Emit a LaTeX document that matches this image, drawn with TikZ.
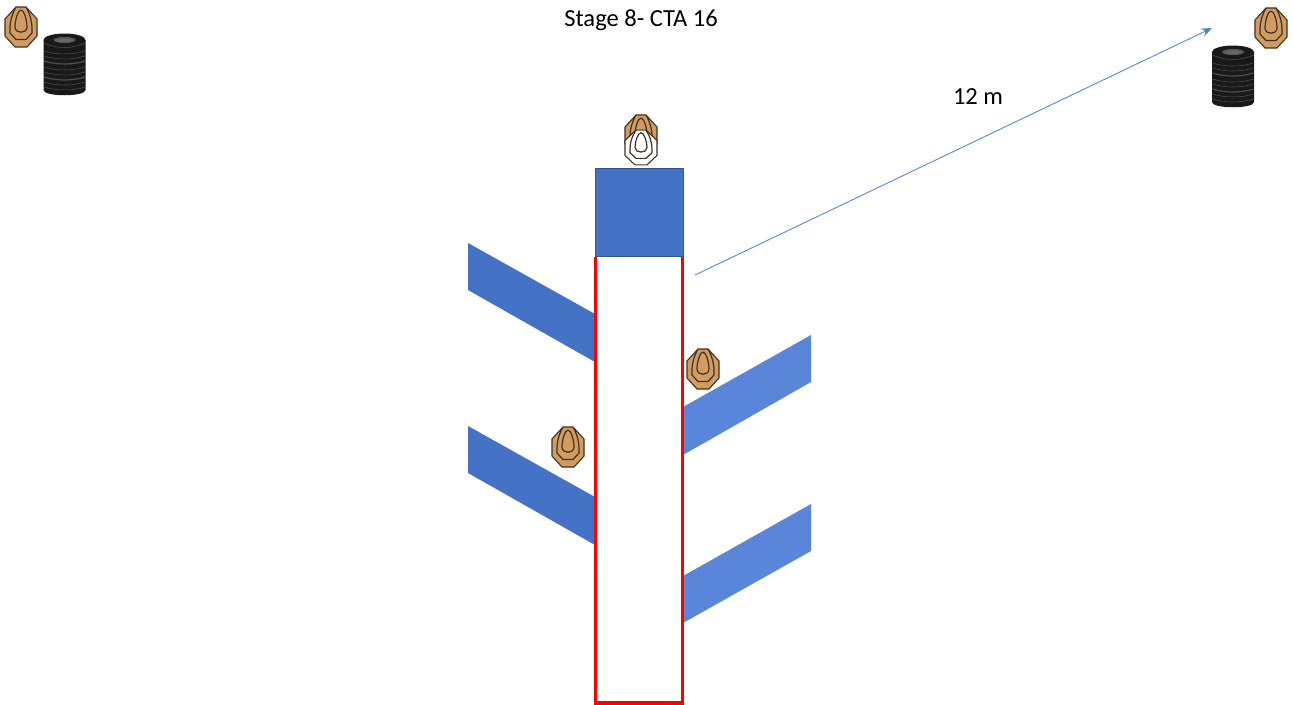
\documentclass[tikz,border=0pt]{standalone}
\usepackage{fontspec}
\setmainfont{Carlito}
\usetikzlibrary{arrows.meta}
\definecolor{bandA}{HTML}{4472C4}
\definecolor{bandB}{HTML}{5A86DA}
\definecolor{lineblue}{HTML}{5F8BD3}
\definecolor{tan}{HTML}{D19C62}
\definecolor{edge}{HTML}{3F3020}
\definecolor{tire}{HTML}{191919}
\definecolor{tireline}{HTML}{4E4E4E}
\tikzset{
  px/.style={x=0.75pt,y=-0.75pt},
  band/.style={fill=#1,draw=none},
  label/.style={font=\fontsize{18.4pt}{20pt}\selectfont,text=black,inner sep=0pt},
  tires/.pic={
    \fill[tire] (-21,-24) -- (21,-24) -- (21,26) .. controls (21,33) and (-21,33) .. (-21,26) -- cycle;
    \foreach \y in {-13,-8,3,8,18,23}
      \draw[tireline,line width=0.4pt] (-20.5,\y) .. controls (-8,\y+4) and (8,\y+4) .. (20.5,\y);
    \foreach \y in {-3,13}
      \draw[tireline,line width=0.9pt] (-20.5,\y) .. controls (-8,\y+4) and (8,\y+4) .. (20.5,\y);
    \fill[tire] (0,-24) ellipse (21 and 6.5);
    \draw[tireline,line width=0.4pt] (-20.5,-21) .. controls (-8,-15) and (8,-15) .. (20.5,-21);
    \fill[gray!70!black] (0,-24) ellipse (11 and 3);
    \fill[black!60] (0,-23.5) ellipse (8 and 1.8);
  }
}
\newcommand{\targetat}[4]{%
  \begin{scope}[shift={(#1,#2)},yscale=#4]
    \path[draw=edge,line width=0.8pt,fill=#3]
      (-5,-20)--(5,-20)--(16,-8)--(16,9)--(6,20)--(-6,20)--(-16,9)--(-16,-8)--cycle;
    \draw[edge,line width=0.9pt]
      (0,-17) .. controls (-3,-17) and (-6,-7) .. (-6,0)
      .. controls (-6,7) and (6,7) .. (6,0)
      .. controls (6,-7) and (3,-17) .. (0,-17);
    \draw[edge,line width=0.9pt]
      (-5,-20) .. controls (-9,-13) and (-11,-6) .. (-11,2)
      -- (-11,6) -- (-5,12.5) -- (5,12.5) -- (11,6) -- (11,2)
      .. controls (11,-6) and (9,-13) .. (5,-20);
  \end{scope}}
\begin{document}
\begin{tikzpicture}[px]
\useasboundingbox (0,0) rectangle (1293,704);
\fill[white] (0,0) rectangle (1293,704);
% bands
\fill[band=bandA] (468,243)--(595,314)--(595,362)--(468,290)--cycle;
\fill[band=bandA] (468,426)--(595,497)--(595,545)--(468,473)--cycle;
\fill[band=bandB] (683,407)--(811,335)--(811,382)--(683,455)--cycle;
\fill[band=bandB] (683,576)--(811,504)--(811,551)--(683,623)--cycle;
% corridor
\draw[red,line width=2.3pt,fill=white] (595.5,256.5)--(595.5,703)--(682.5,703)--(682.5,256.5);
\draw[fill=bandA,draw=bandA!75!black,line width=0.5pt] (595,168) rectangle (683,256.5);
% targets
\targetat{21}{27}{tan}{1}
\targetat{1271}{28}{tan}{1}
\targetat{641}{135}{tan}{1}
\targetat{641}{147.5}{white}{0.87}
\targetat{703}{369}{tan}{1}
\targetat{568}{447}{tan}{1}
% tires
\pic at (64.5,64) {tires};
\pic at (1233,76) {tires};
% arrow
\coordinate (arrowstart) at (695,275);
\coordinate (arrowend) at (1212,28);
\draw[lineblue,line width=0.7pt,-{Stealth[length=8pt,width=6.5pt,fill=bandA]}] (arrowstart) -- (arrowend);
% labels
\node[label] (title) at (641,20) {Stage 8- CTA 16};
\node[label] (dist) at (978,97) {12 m};
\end{tikzpicture}
\end{document}
